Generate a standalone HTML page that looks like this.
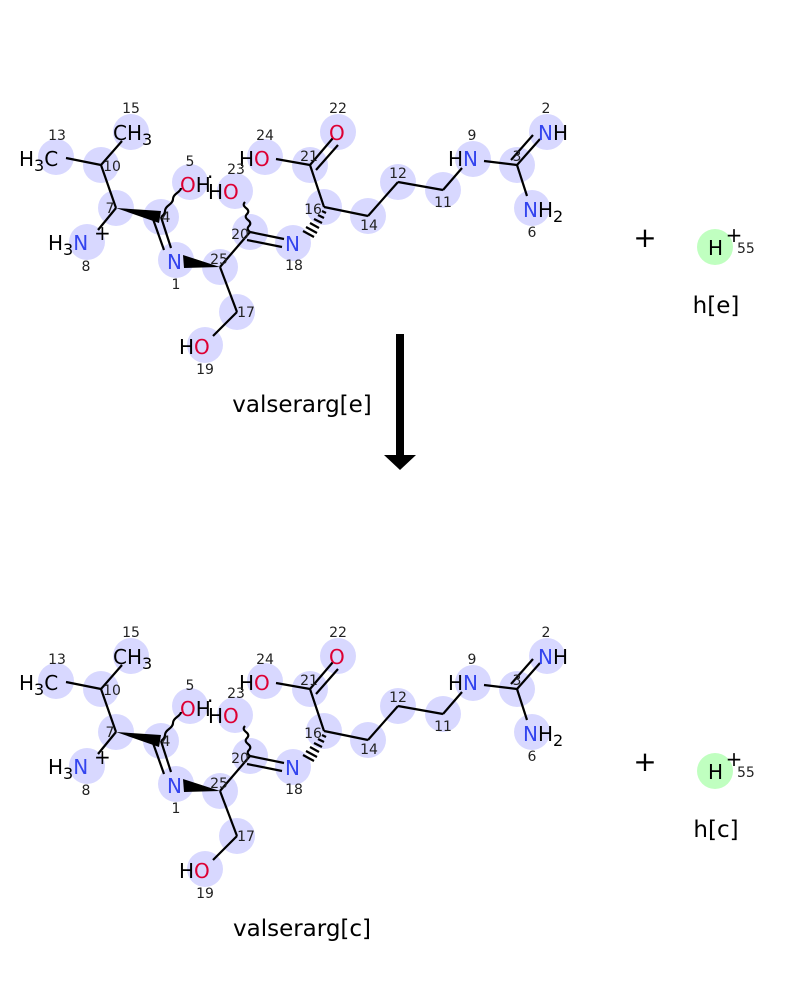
<!DOCTYPE html>
<html><head><meta charset="utf-8"><style>
html,body{margin:0;padding:0;background:#fff}
svg{display:block;font-family:"DejaVu Sans","Liberation Sans",sans-serif}
.e{font-size:20px}
.t{font-size:23px}
.n{font-size:14px;fill:#222;text-anchor:middle}
.N{fill:#3344ee}.O{fill:#dd0033}
line,path{stroke:#000;stroke-width:2.2;fill:none}
</style></head><body>
<svg width="800" height="1000" viewBox="0 0 800 1000">
<defs>
<g id="mol">
<g fill="#d8d8ff" stroke="none">
<circle cx="56" cy="157" r="18"/><circle cx="101" cy="165" r="18"/><circle cx="131" cy="132" r="18"/>
<circle cx="116" cy="208" r="18"/><circle cx="87" cy="242" r="18"/><circle cx="161" cy="217" r="18"/>
<circle cx="190" cy="182" r="18"/><circle cx="176" cy="260" r="18"/><circle cx="220" cy="267" r="18"/>
<circle cx="235" cy="191" r="18"/><circle cx="250" cy="232" r="18"/><circle cx="293" cy="243" r="18"/>
<circle cx="237" cy="312" r="18"/><circle cx="205" cy="345" r="18"/><circle cx="265" cy="157" r="18"/>
<circle cx="338" cy="132" r="18"/><circle cx="310" cy="165" r="18"/><circle cx="324" cy="207" r="18"/>
<circle cx="368" cy="216" r="18"/><circle cx="398" cy="182" r="18"/><circle cx="443" cy="190" r="18"/>
<circle cx="473" cy="159" r="18"/><circle cx="517" cy="165" r="18"/><circle cx="547" cy="132" r="18"/>
<circle cx="532" cy="208" r="18"/>
</g>
<line x1="66" y1="158" x2="101" y2="165"/>
<line x1="101" y1="165" x2="122" y2="141"/>
<line x1="101" y1="165" x2="116" y2="208"/>
<line x1="116" y1="208" x2="98" y2="230"/>
<polygon points="116,208 161,211 159,223" fill="#000" stroke="none"/>
<line x1="161" y1="217" x2="171" y2="248"/>
<line x1="153" y1="219" x2="164" y2="250"/>
<path d="M161,217 q4,-3 4,-6 t4,-6 t4,-6 t4,-6 t4,-5" stroke-width="1.6"/>
<polygon points="183,255 220,267 184,268" fill="#000" stroke="none"/>
<line x1="220" y1="267" x2="250" y2="232"/>
<line x1="220" y1="267" x2="237" y2="312"/>
<line x1="237" y1="312" x2="213" y2="336"/>
<path d="M250,232 q-4,-3 -1,-6 t-1,-6 t-1,-6 t-1,-6 t-1,-6" stroke-width="1.6"/>
<line x1="250" y1="232" x2="284" y2="239"/>
<line x1="247" y1="240" x2="282" y2="247"/>
<g stroke-width="1.6">
<line x1="322" y1="211" x2="326" y2="213"/><line x1="318" y1="215" x2="324" y2="218"/><line x1="314" y1="219" x2="322" y2="223"/><line x1="310" y1="223" x2="319" y2="228"/><line x1="306" y1="227" x2="317" y2="233"/><line x1="303" y1="231" x2="314" y2="237"/>
</g>
<line x1="324" y1="207" x2="310" y2="165"/>
<line x1="324" y1="207" x2="368" y2="216"/>
<line x1="310" y1="165" x2="276" y2="159"/>
<line x1="310" y1="165" x2="333" y2="138"/>
<line x1="316" y1="170" x2="338" y2="145"/>
<line x1="368" y1="216" x2="398" y2="182"/>
<line x1="398" y1="182" x2="443" y2="190"/>
<line x1="443" y1="190" x2="462" y2="168"/>
<line x1="484" y1="161" x2="517" y2="165"/>
<line x1="517" y1="165" x2="540" y2="139"/>
<line x1="511" y1="160" x2="533" y2="135"/>
<line x1="517" y1="165" x2="527" y2="196"/>
<text class="e" x="19" y="166">H<tspan font-size="16" dy="5">3</tspan><tspan dy="-5">C</tspan></text>
<text class="e" x="113" y="140">CH<tspan font-size="16" dy="5">3</tspan></text>
<text class="e" x="48" y="250">H<tspan font-size="16" dy="5">3</tspan><tspan dy="-5" class="N">N</tspan></text>
<text class="e" x="94" y="240">+</text>
<text class="e" x="180" y="192"><tspan class="O">O</tspan>H</text>
<text class="e" x="207" y="184">·</text>
<text class="e" x="208" y="199">H<tspan class="O">O</tspan></text>
<text class="e N" x="167" y="269">N</text>
<text class="e N" x="285" y="251">N</text>
<text class="e" x="239" y="166">H<tspan class="O">O</tspan></text>
<text class="e O" x="329" y="140">O</text>
<text class="e" x="448" y="166">H<tspan class="N">N</tspan></text>
<text class="e" x="538" y="140"><tspan class="N">N</tspan>H</text>
<text class="e" x="523" y="217"><tspan class="N">N</tspan>H<tspan font-size="16" dy="5">2</tspan></text>
<text class="e" x="179" y="354">H<tspan class="O">O</tspan></text>
<text class="n" x="57" y="140">13</text><text class="n" x="131" y="113">15</text>
<text class="n" x="112" y="171">10</text><text class="n" x="190" y="166">5</text>
<text class="n" x="236" y="174">23</text><text class="n" x="110" y="213">7</text>
<text class="n" x="166" y="222">4</text><text class="n" x="86" y="271">8</text>
<text class="n" x="176" y="289">1</text><text class="n" x="219" y="264">25</text>
<text class="n" x="240" y="239">20</text><text class="n" x="294" y="270">18</text>
<text class="n" x="246" y="317">17</text><text class="n" x="205" y="374">19</text>
<text class="n" x="265" y="140">24</text><text class="n" x="338" y="113">22</text>
<text class="n" x="309" y="161">21</text><text class="n" x="313" y="214">16</text>
<text class="n" x="369" y="230">14</text><text class="n" x="398" y="178">12</text>
<text class="n" x="443" y="207">11</text><text class="n" x="472" y="140">9</text>
<text class="n" x="517" y="161">3</text><text class="n" x="546" y="113">2</text>
<text class="n" x="532" y="237">6</text>
<text font-size="28" x="645" y="247" text-anchor="middle">+</text>
<circle cx="715" cy="247" r="18" fill="#c0ffc0"/>
<text class="e" x="708" y="255">H</text>
<text class="e" x="734" y="242" text-anchor="middle">+</text>
<text font-size="14" x="737" y="253" fill="#222">55</text>
</g>
</defs>
<use href="#mol"/>
<text class="t" x="302" y="412" text-anchor="middle">valserarg[e]</text>
<text class="t" x="716" y="313" text-anchor="middle">h[e]</text>
<rect x="396" y="334" width="8" height="122" fill="#000"/>
<polygon points="384,455 416,455 400,470" fill="#000"/>
<use href="#mol" transform="translate(0,524)"/>
<text class="t" x="302" y="936" text-anchor="middle">valserarg[c]</text>
<text class="t" x="716" y="837" text-anchor="middle">h[c]</text>
</svg>
</body></html>
